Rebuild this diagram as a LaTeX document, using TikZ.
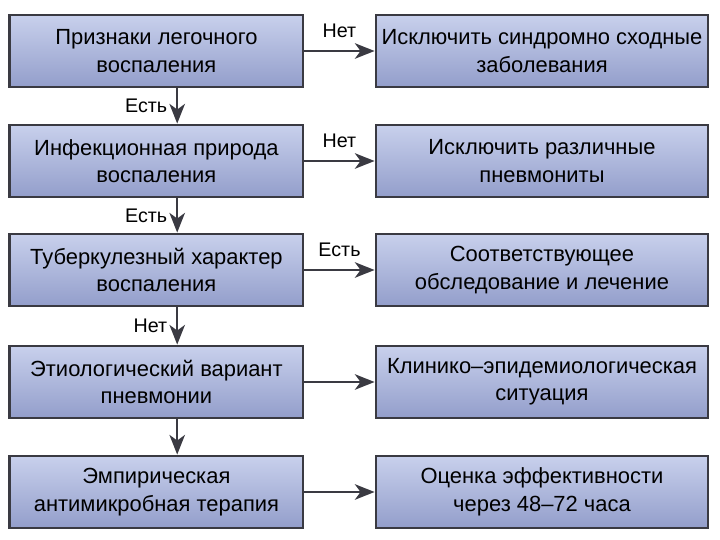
\documentclass[tikz,border=0pt]{standalone}
\usepackage{fontspec}
\setmainfont{Liberation Sans}
\usetikzlibrary{arrows.meta,calc}
\definecolor{boxtop}{HTML}{C8D0EC}
\definecolor{boxbot}{HTML}{939ECB}
\definecolor{edge}{HTML}{3A3A42}

\begin{document}
\begin{tikzpicture}[
  stepbox/.style={draw=edge, line width=2pt, top color=boxtop, bottom color=boxbot,
                  minimum height=1.8cm, align=center, inner sep=0pt,
                  font=\fontsize{15.6}{19.5}\selectfont},
  leftbox/.style={stepbox, minimum width=7.33cm},
  rightbox/.style={stepbox, minimum width=8.3cm},
  arr/.style={-{Stealth[length=14pt, width=11pt, inset=4pt]}, line width=1.6pt, draw=edge},
  lbl/.style={font=\fontsize{14}{16}\selectfont, text=black}
]
  \useasboundingbox (0,0) rectangle (18,13.5);

  % Left column (decision steps)
  \node[leftbox] (signs) at (3.91,12.225) {Признаки легочного\\воспаления};
  \node[leftbox] (infect) at (3.91,9.475) {Инфекционная природа\\воспаления};
  \node[leftbox] (tuberc) at (3.91,6.75) {Туберкулезный характер\\воспаления};
  \node[leftbox] (etiol) at (3.91,3.95) {Этиологический вариант\\пневмонии};
  \node[leftbox] (empir) at (3.91,1.2) {Эмпирическая\\антимикробная терапия};

  % Right column (outcomes)
  \node[rightbox] (exclsyn) at (13.55,12.225) {Исключить синдромно сходные\\заболевания};
  \node[rightbox] (exclpn) at (13.55,9.475) {Исключить различные\\пневмониты};
  \node[rightbox] (treat) at (13.55,6.75) {Соответствующее\\обследование и лечение};
  \node[rightbox] (clinic) at (13.55,3.95) {Клинико–эпидемиологическая\\ситуация};
  \node[rightbox] (assess) at (13.55,1.2) {Оценка эффективности\\через 48–72 часа};

  % Vertical arrows (slightly right of centre)
  \coordinate (vx) at (4.43,0);
  \draw[arr] (signs.south -| vx) -- node[lbl, left=3pt] {Есть} (infect.north -| vx);
  \draw[arr] (infect.south -| vx) -- node[lbl, left=3pt] {Есть} (tuberc.north -| vx);
  \draw[arr] (tuberc.south -| vx) -- node[lbl, left=3pt] {Нет} (etiol.north -| vx);
  \draw[arr] (etiol.south -| vx) -- (empir.north -| vx);

  % Horizontal arrows
  \draw[arr] (signs.east) -- node[lbl, above=5pt] {Нет} (exclsyn.west);
  \draw[arr] (infect.east) -- node[lbl, above=5pt] {Нет} (exclpn.west);
  \draw[arr] (tuberc.east) -- node[lbl, above=5pt] {Есть} (treat.west);
  \draw[arr] (etiol.east) -- (clinic.west);
  \draw[arr] (empir.east) -- (assess.west);
\end{tikzpicture}
\end{document}
